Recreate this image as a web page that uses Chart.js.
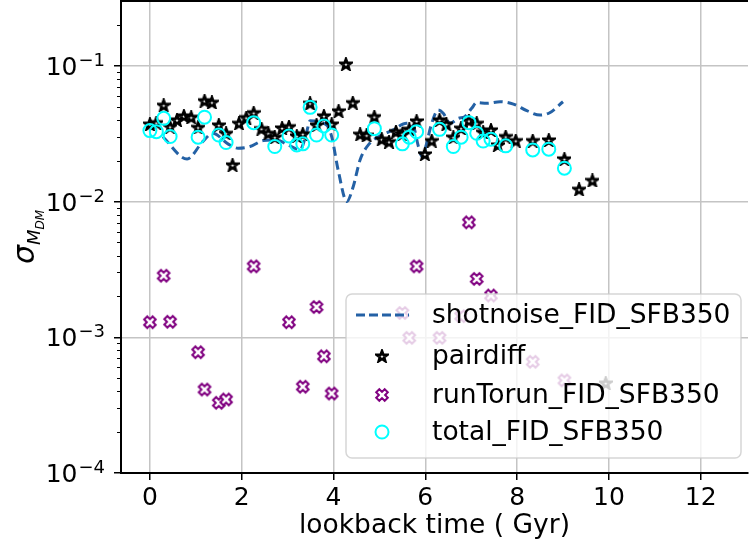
<!DOCTYPE html>
<html>
<head>
<meta charset="utf-8">
<script src="https://cdn.jsdelivr.net/npm/chart.js@4.4.0/dist/chart.umd.min.js"></script>
<style>
  html, body { margin: 0; padding: 0; background: #fff; }
  #wrap { width: 749px; height: 552px; }
</style>
</head>
<body>
<div id="wrap"><canvas id="chart" width="749" height="552"></canvas></div>
<script>
const FONT = "'DejaVu Sans', sans-serif";

// shotnoise_FID_SFB350 (dashed curve)
const shotTime = [0.28,0.81,1.15,1.37,1.70,1.92,2.18,2.47,2.76,3.01,3.27,3.40,3.49,3.85,3.96,4.10,4.29,4.43,4.58,4.79,5.01,5.30,5.59,5.74,5.85,5.93,5.99,6.14,6.28,6.39,6.54,6.72,6.86,7.01,7.12,7.34,7.63,7.92,8.21,8.50,8.71,9.00];
const shotSigma = [0.0300,0.0206,0.0276,0.0318,0.0266,0.0247,0.0254,0.0281,0.0284,0.0261,0.0240,0.0309,0.0394,0.0366,0.0301,0.0171,0.0100,0.0129,0.0203,0.0269,0.0304,0.0337,0.0377,0.0356,0.0254,0.0214,0.0240,0.0377,0.0472,0.0447,0.0377,0.0410,0.0422,0.0486,0.0535,0.0529,0.0543,0.0522,0.0467,0.0433,0.0451,0.0543];

// pairdiff (stars)
const pairTime = [0.00,0.14,0.30,0.44,0.59,0.74,0.90,1.05,1.19,1.35,1.50,1.66,1.80,1.94,2.10,2.26,2.43,2.58,2.72,2.88,3.03,3.20,3.33,3.49,3.63,3.79,3.96,4.11,4.27,4.42,4.58,4.72,4.89,5.05,5.21,5.36,5.50,5.65,5.81,5.99,6.14,6.31,6.46,6.61,6.78,6.95,7.12,7.26,7.43,7.58,7.75,7.97,8.34,8.69,9.03,9.35,9.64,9.93];
const pairSigma = [0.0372,0.0381,0.0512,0.0356,0.0399,0.0427,0.0418,0.0352,0.0553,0.0538,0.0366,0.0318,0.0186,0.0377,0.0415,0.0451,0.0344,0.0318,0.0298,0.0348,0.0356,0.0304,0.0315,0.0529,0.0366,0.0427,0.0372,0.0465,0.103,0.0535,0.0313,0.0308,0.0422,0.0288,0.0276,0.0327,0.0315,0.0341,0.0392,0.0224,0.0281,0.0399,0.0372,0.0298,0.0347,0.0394,0.0377,0.0324,0.0337,0.0261,0.0301,0.0281,0.0281,0.0284,0.0206,0.0123,0.0143,0.00046];

// runTorun_FID_SFB350 (X markers)
const runTime = [0.00,0.30,0.44,1.05,1.19,1.50,1.66,2.26,3.03,3.33,3.63,3.79,3.96,5.50,5.65,5.81,6.31,6.78,6.95,7.12,7.43,8.34,9.03];
const runSigma = [1.29e-3,2.84e-3,1.30e-3,7.76e-4,4.12e-4,3.29e-4,3.48e-4,3.33e-3,1.29e-3,4.32e-4,1.67e-3,7.24e-4,3.85e-4,1.51e-3,9.9e-4,3.33e-3,9.9e-4,1.43e-3,7.02e-3,2.69e-3,2.03e-3,6.6e-4,4.81e-4];

// total_FID_SFB350 (open circles)
const totalTime = [0.00,0.14,0.30,0.44,1.05,1.19,1.50,1.66,2.26,2.72,3.03,3.20,3.33,3.49,3.63,3.79,3.96,4.89,5.50,5.65,5.81,6.31,6.61,6.78,6.95,7.12,7.26,7.43,7.75,8.34,8.69,9.03];
const totalSigma = [0.0333,0.0327,0.0410,0.0301,0.0298,0.0418,0.0309,0.0272,0.0381,0.0254,0.0304,0.0261,0.0266,0.0494,0.0309,0.0360,0.0309,0.0344,0.0266,0.0298,0.0327,0.0340,0.0254,0.0298,0.0381,0.0318,0.0279,0.0288,0.0257,0.0240,0.0243,0.0176];

const xTicks = [0, 2, 4, 6, 8, 10, 12];
const yExponents = [-4, -3, -2, -1];

const LINE_BLUE = '#2461a5';
const PURPLE = '#800080';
const CYAN = '#00ffff';
// plot frame in canvas pixels
const AREA = { left: 121, top: 1, right: 748, bottom: 473 };

function pts(xs, ys) {
  return xs.map((x, i) => ({ x: x, y: ys[i] }));
}

function starMarker() {
  const s = 14, c = document.createElement('canvas');
  c.width = c.height = s;
  const g = c.getContext('2d');
  g.beginPath();
  for (let i = 0; i < 10; i++) {
    const r = i % 2 ? 2.3 : 5.6;
    const a = -Math.PI / 2 + i * Math.PI / 5;
    const px = s / 2 + r * Math.cos(a), py = s / 2 + 0.6 + r * Math.sin(a);
    i ? g.lineTo(px, py) : g.moveTo(px, py);
  }
  g.closePath();
  g.fillStyle = '#fff';
  g.fill();
  g.lineJoin = 'miter';
  g.lineWidth = 2.6;
  g.strokeStyle = '#000';
  g.stroke();
  return c;
}

function xMarker() {
  const s = 16, c = document.createElement('canvas');
  c.width = c.height = s;
  const g = c.getContext('2d');
  const L = 6, w = 2.2;
  const plus = [[-w,-L],[w,-L],[w,-w],[L,-w],[L,w],[w,w],[w,L],[-w,L],[-w,w],[-L,w],[-L,-w],[-w,-w]];
  const ca = Math.cos(Math.PI / 4), sa = Math.sin(Math.PI / 4);
  g.beginPath();
  plus.forEach((p, i) => {
    const px = s / 2 + p[0] * ca - p[1] * sa, py = s / 2 + p[0] * sa + p[1] * ca;
    i ? g.lineTo(px, py) : g.moveTo(px, py);
  });
  g.closePath();
  g.fillStyle = '#fff';
  g.fill();
  g.lineWidth = 2;
  g.strokeStyle = PURPLE;
  g.stroke();
  return c;
}

const STAR = starMarker();
const XMARK = xMarker();

// pin the plot frame to the reference position
const pinArea = {
  id: 'pinArea',
  afterLayout(chart) {
    const a = AREA, w = a.right - a.left, h = a.bottom - a.top;
    chart.chartArea = { left: a.left, top: a.top, right: a.right, bottom: a.bottom, width: w, height: h };
    const x = chart.scales.x, y = chart.scales.y;
    Object.assign(x, { left: a.left, right: a.right, top: a.bottom, bottom: 552, width: w, height: 552 - a.bottom });
    Object.assign(y, { left: 0, right: a.left, top: a.top, bottom: a.bottom, width: a.left, height: h });
    x.configure();
    y.configure();
  }
};

const overlay = {
  id: 'overlay',
  afterDatasetsDraw(chart) {
    const ctx = chart.ctx;
    // legend box
    const bx = 346, by = 294, bw = 395, bh = 164;
    ctx.save();
    ctx.beginPath();
    ctx.roundRect(bx, by, bw, bh, 6);
    ctx.fillStyle = 'rgba(255,255,255,0.8)';
    ctx.fill();
    ctx.lineWidth = 1.5;
    ctx.strokeStyle = 'rgba(204,204,204,0.8)';
    ctx.stroke();
    const rows = [315, 356, 395, 432];
    const hx = 382, tx = 432;
    ctx.strokeStyle = LINE_BLUE;
    ctx.lineWidth = 3;
    ctx.setLineDash([9, 4]);
    ctx.beginPath();
    ctx.moveTo(356, rows[0]);
    ctx.lineTo(409, rows[0]);
    ctx.stroke();
    ctx.setLineDash([]);
    ctx.drawImage(STAR, hx - STAR.width / 2, rows[1] - STAR.height / 2);
    ctx.drawImage(XMARK, hx - XMARK.width / 2, rows[2] - XMARK.height / 2);
    ctx.beginPath();
    ctx.arc(hx, rows[3], 6.5, 0, Math.PI * 2);
    ctx.strokeStyle = CYAN;
    ctx.lineWidth = 2;
    ctx.stroke();
    ctx.fillStyle = '#000';
    ctx.font = '26.5px ' + FONT;
    ctx.textBaseline = 'middle';
    ctx.textAlign = 'left';
    chart.data.datasets.forEach((d, i) => ctx.fillText(d.label, tx, rows[i] + 1));
    ctx.restore();
  },
  afterDraw(chart) {
    const ctx = chart.ctx, xs = chart.scales.x, ys = chart.scales.y, area = chart.chartArea;
    ctx.save();
    // minor ticks on the log axis
    ctx.strokeStyle = '#000';
    ctx.lineWidth = 1;
    yExponents.forEach(e => {
      for (let m = 2; m <= 9; m++) {
        const v = m * Math.pow(10, e);
        if (v > ys.max) break;
        const py = Math.round(ys.getPixelForValue(v)) + 0.5;
        ctx.beginPath();
        ctx.moveTo(area.left - 4, py);
        ctx.lineTo(area.left, py);
        ctx.stroke();
      }
    });
    // y tick labels 10^n
    ctx.fillStyle = '#000';
    ctx.textBaseline = 'alphabetic';
    yExponents.forEach(e => {
      const py = ys.getPixelForValue(Math.pow(10, e));
      const exp = '\u2212' + Math.abs(e);
      ctx.font = '18px ' + FONT;
      ctx.textAlign = 'right';
      ctx.fillText(exp, 105, py);
      const ew = ctx.measureText(exp).width;
      ctx.font = '25px ' + FONT;
      ctx.fillText('10', 105 - ew - 1, py + 9);
    });
    // x tick labels
    ctx.font = '25px ' + FONT;
    ctx.textAlign = 'center';
    ctx.textBaseline = 'alphabetic';
    xTicks.forEach(v => ctx.fillText(String(v), xs.getPixelForValue(v), 505));
    // top spine
    ctx.lineWidth = 2;
    ctx.beginPath();
    ctx.moveTo(area.left, area.top);
    ctx.lineTo(area.right, area.top);
    ctx.stroke();
    // x title
    ctx.font = '26.5px ' + FONT;
    ctx.textAlign = 'center';
    ctx.textBaseline = 'middle';
    ctx.fillText('lookback time ( Gyr)', (area.left + area.right) / 2, 526);
    // y title sigma_{M_DM}
    ctx.translate(26, (area.top + area.bottom) / 2);
    ctx.rotate(-Math.PI / 2);
    ctx.textAlign = 'left';
    ctx.textBaseline = 'alphabetic';
    ctx.font = 'italic 30px ' + FONT;
    const sw = ctx.measureText('\u03c3').width;
    ctx.font = 'italic 18px ' + FONT;
    const mw = ctx.measureText('M').width;
    ctx.font = 'italic 12px ' + FONT;
    const dw = ctx.measureText('DM').width;
    const total = sw + mw + dw;
    let x0 = -total / 2;
    ctx.font = 'italic 30px ' + FONT;
    ctx.fillText('\u03c3', x0, 8);
    ctx.font = 'italic 18px ' + FONT;
    ctx.fillText('M', x0 + sw, 14);
    ctx.font = 'italic 12px ' + FONT;
    ctx.fillText('DM', x0 + sw + mw, 18);
    ctx.restore();
  }
};

new Chart(document.getElementById('chart'), {
  type: 'scatter',
  data: {
    datasets: [
      {
        label: 'shotnoise_FID_SFB350',
        data: pts(shotTime, shotSigma),
        showLine: true,
        borderColor: LINE_BLUE,
        borderWidth: 3,
        borderDash: [9, 5],
        pointRadius: 0,
        cubicInterpolationMode: 'monotone',
        order: 3
      },
      {
        label: 'pairdiff',
        data: pts(pairTime, pairSigma),
        pointStyle: STAR,
        order: 2
      },
      {
        label: 'runTorun_FID_SFB350',
        data: pts(runTime, runSigma),
        pointStyle: XMARK,
        order: 1
      },
      {
        label: 'total_FID_SFB350',
        data: pts(totalTime, totalSigma),
        pointStyle: 'circle',
        pointRadius: 6.5,
        borderColor: CYAN,
        borderWidth: 2,
        backgroundColor: 'rgba(0,0,0,0)',
        order: 0
      }
    ]
  },
  options: {
    responsive: false,
    animation: false,
    layout: { padding: 0 },
    plugins: { legend: { display: false }, tooltip: { enabled: false } },
    scales: {
      x: {
        type: 'linear',
        min: -0.63,
        max: 13.03,
        afterBuildTicks: s => { s.ticks = xTicks.map(v => ({ value: v })); },
        grid: { color: '#c4c4c4', lineWidth: 1.5, tickLength: 7, tickColor: '#000', tickWidth: 1.5 },
        border: { color: '#000', width: 2 },
        ticks: { display: false }
      },
      y: {
        type: 'logarithmic',
        min: 1e-4,
        max: 0.3,
        afterBuildTicks: s => { s.ticks = yExponents.map(e => ({ value: Math.pow(10, e) })); },
        grid: { color: '#c4c4c4', lineWidth: 1.5, tickLength: 7, tickColor: '#000', tickWidth: 1.5 },
        border: { color: '#000', width: 2 },
        ticks: { display: false }
      }
    }
  },
  plugins: [pinArea, overlay]
});
</script>
</body>
</html>
